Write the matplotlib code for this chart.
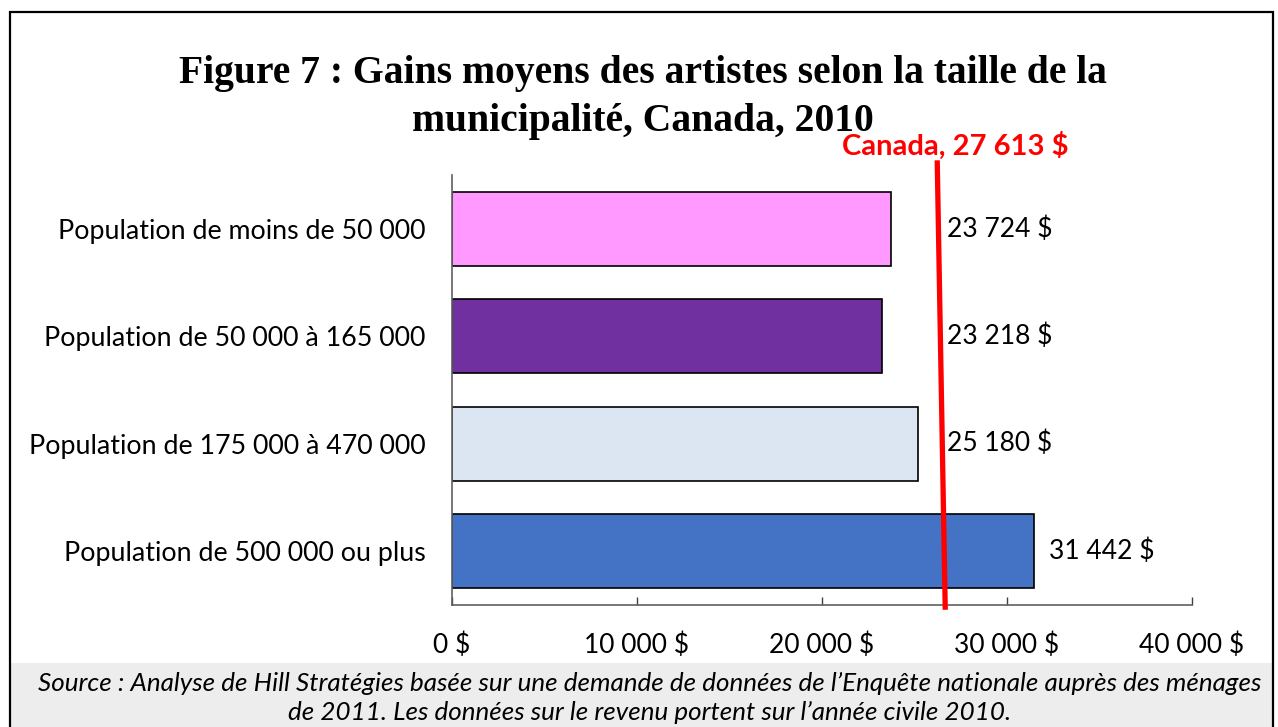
import matplotlib
matplotlib.use("Agg")
import matplotlib.pyplot as plt
from matplotlib.patches import Rectangle

plt.rcParams['font.family'] = ['Lato', 'DejaVu Sans']

# ----- data -----
categories = ["Population de moins de 50 000",
              "Population de 50 000 à 165 000",
              "Population de 175 000 à 470 000",
              "Population de 500 000 ou plus"]
earnings = [23724, 23218, 25180, 31442]
bar_colors = ["#FF99FF", "#7030A0", "#DCE6F2", "#4472C4"]
x_ticks = [0, 10000, 20000, 30000, 40000]
canada_value = 27613
canada_line_x = [26230, 26660]   # drawn line, slightly slanted in the original


def fmt(v):
    return f"{v:,}".replace(",", " ") + " $"


fig = plt.figure(figsize=(12.78, 7.27), dpi=100)
W, H = 1278, 727

# frame + grey source box
fig.patches.append(Rectangle((11 / W, 0), 1262 / W, (727 - 663) / H,
                             transform=fig.transFigure, facecolor="#EDEDED",
                             edgecolor="none", zorder=0))
fig.patches.append(Rectangle((10 / W, -0.01), 1263 / W, 1.01 - 12 / H,
                             transform=fig.transFigure, facecolor="none",
                             edgecolor="black", lw=1.6, zorder=1))

ax = fig.add_axes([452 / W, 1 - 605 / H, 740 / W, 430 / H])
ypos = list(range(len(categories)))
ax.barh(ypos, earnings, height=0.69, color=bar_colors, edgecolor="black", lw=1.2, zorder=2)
ax.set_xlim(0, 40000)
ax.set_ylim(3.5, -0.5)

ax.set_yticks(ypos)
ax.set_yticklabels(categories, fontsize=19.3)
ax.tick_params(axis="y", length=0, pad=19)
ax.set_xticks(x_ticks)
ax.set_xticklabels([fmt(t) for t in x_ticks], fontsize=19)
ax.tick_params(axis="x", direction="in", length=6, width=1, color="#404040", pad=20)

for s in ["top", "right"]:
    ax.spines[s].set_visible(False)
for s in ["left", "bottom"]:
    ax.spines[s].set_color("#606060")
    ax.spines[s].set_linewidth(1.2)

# Canada average line
ax.plot(canada_line_x, [-0.612, 3.52], color="#FF0000", lw=3.8, clip_on=False, zorder=4)
ax.text(canada_line_x[0] + 950, -0.64, f"Canada, {fmt(canada_value)}", color="#FF0000",
        fontsize=21, fontweight="bold", ha="center", va="bottom")

for y, v in zip(ypos, earnings):
    ax.text(max(v + 850, canada_line_x[1] + 100), y, fmt(v), fontsize=19, va="center", ha="left")

fig.text(643 / W, 1 - 74 / H, "Figure 7 : Gains moyens des artistes selon la taille de la",
         family="Liberation Serif", fontweight="bold", fontsize=28.5, ha="center", va="center")
fig.text(643 / W, 1 - 122 / H, "municipalité, Canada, 2010",
         family="Liberation Serif", fontweight="bold", fontsize=28.5, ha="center", va="center")

fig.text(650 / W, 1 - 683 / H,
         "Source : Analyse de Hill Stratégies basée sur une demande de données de l’Enquête nationale auprès des ménages",
         style="italic", fontsize=18.7, ha="center", va="center")
fig.text(650 / W, 1 - 712 / H,
         "de 2011. Les données sur le revenu portent sur l’année civile 2010.",
         style="italic", fontsize=18.7, ha="center", va="center")

fig.savefig("out.png", dpi=100)
